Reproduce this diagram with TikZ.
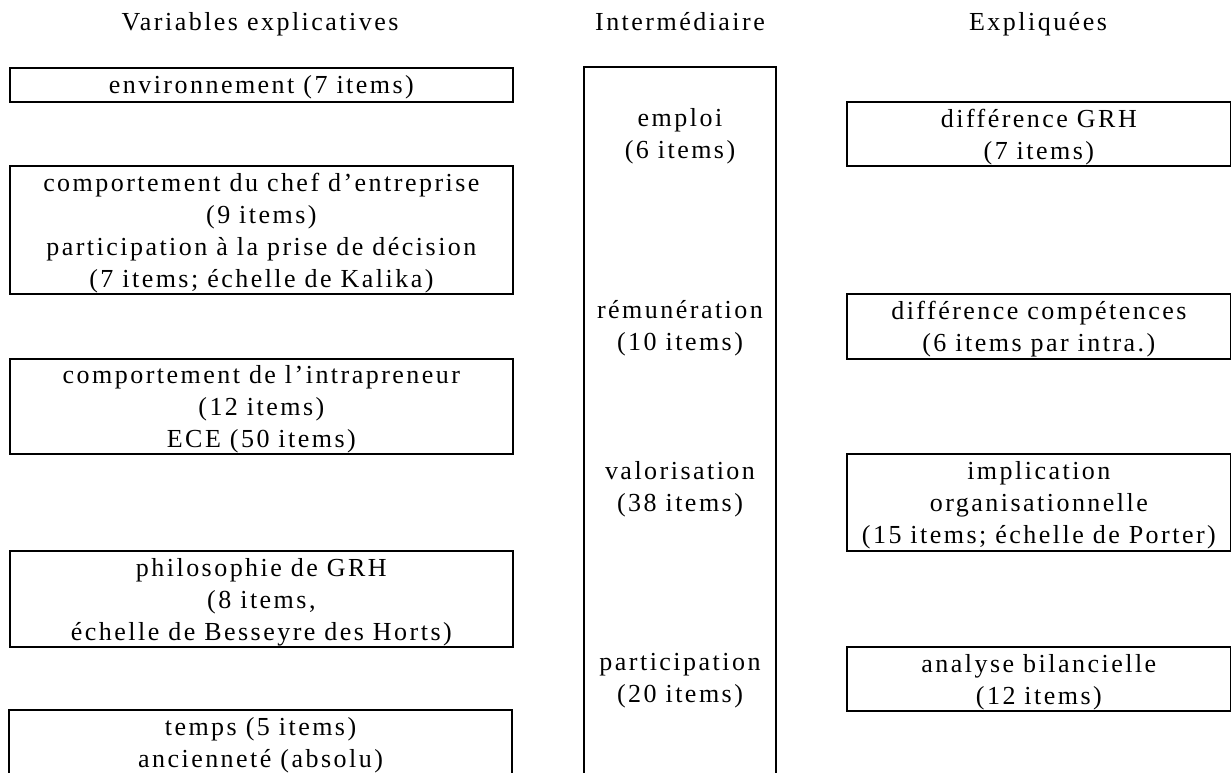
\documentclass[tikz,border=0pt]{standalone}
\usepackage{fontspec}
\setmainfont[LetterSpace=9.5]{Liberation Serif}
\newcommand{\boxfont}{\fontsize{26}{32}\selectfont}
\begin{document}
\begin{tikzpicture}[x=1pt,y=-1pt,
  frame/.style={line width=1.7pt},
  cellbox/.style={draw, line width=1.7pt, inner sep=0pt, anchor=north west},
  leftbox/.style={cellbox, minimum width=503pt},
  rightbox/.style={cellbox, minimum width=384pt},
  celltext/.style={inner sep=0pt, align=center, font=\boxfont},
  header/.style={inner sep=0pt, anchor=base, font=\boxfont}]
\useasboundingbox (0,0) rectangle (1231,773);

% headers
\node[header] (h1) at (260,31) {Variables explicatives};
\node[header] (h2) at (680,31) {Intermédiaire};
\node[header] (h3) at (1038,31) {Expliquées};

% left column
\node[leftbox, minimum height=34pt] (env) at (9,67) {};
\node[celltext] (envt) at ([yshift=-2pt]env.center) {environnement (7 items)};
\node[leftbox, minimum height=128pt] (chef) at (9,165) {};
\node[celltext] (cheft) at ([yshift=-3pt]chef.center) {comportement du chef d’entreprise\\(9 items)\\participation à la prise de décision\\(7 items; échelle de Kalika)};
\node[leftbox, minimum height=95pt] (intra) at (9,358) {};
\node[celltext] (intrat) at ([yshift=-3pt]intra.center) {comportement de l’intrapreneur\\(12 items)\\ECE (50 items)};
\node[leftbox, minimum height=96pt] (philo) at (9,550) {};
\node[celltext] (philot) at ([yshift=-3pt]philo.center) {philosophie de GRH\\(8 items,\\échelle de Besseyre des Horts)};
\draw[frame] (9,776) -- (9,710) -- (512,710) -- (512,776);
\node[celltext] (temps) at (260.5,745) {temps (5 items)\\ancienneté (absolu)};

% middle column
\draw[frame] (584,776) -- (584,67) -- (776,67) -- (776,776);
\node[celltext] (emploi) at (680,136) {emploi\\(6 items)};
\node[celltext] (remu) at (680,328.5) {rémunération\\(10 items)};
\node[celltext] (valo) at (680,489) {valorisation\\(38 items)};
\node[celltext] (parti) at (680,681) {participation\\(20 items)};

% right column
\node[rightbox, minimum height=64pt] (grh) at (846,101) {};
\node[celltext] (grht) at ([yshift=-3pt]grh.center) {différence GRH\\(7 items)};
\node[rightbox, minimum height=65pt] (comp) at (846,293) {};
\node[celltext] (compt) at ([yshift=-3pt]comp.center) {différence compétences\\(6 items par intra.)};
\node[rightbox, minimum height=97pt] (impl) at (846,453) {};
\node[celltext] (implt) at ([yshift=-3pt]impl.center) {implication\\organisationnelle\\(15 items; échelle de Porter)};
\node[rightbox, minimum height=64pt] (bilan) at (846,646) {};
\node[celltext] (bilant) at ([yshift=-3pt]bilan.center) {analyse bilancielle\\(12 items)};
\end{tikzpicture}
\end{document}
